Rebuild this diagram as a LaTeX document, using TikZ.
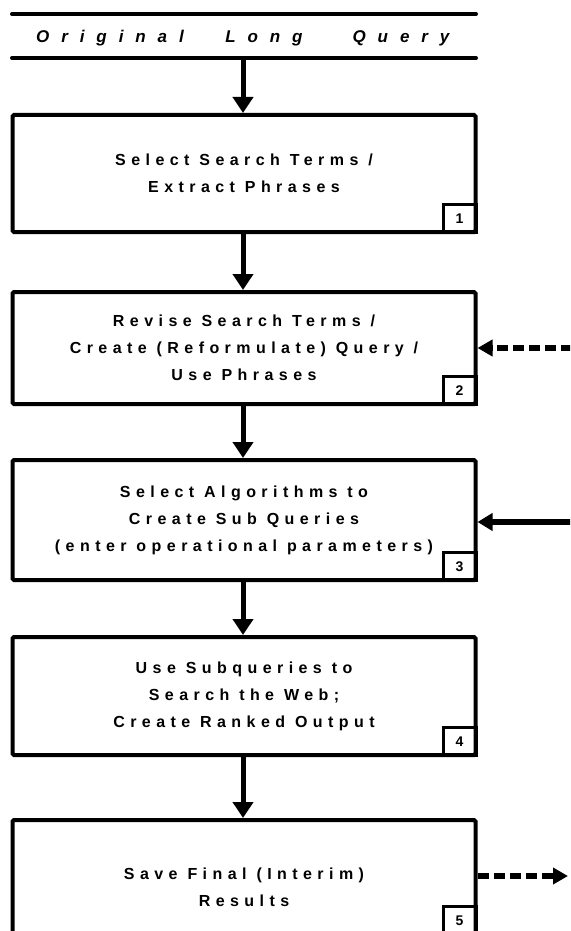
\documentclass[tikz,border=0pt]{standalone}
\usepackage{fontspec}
\usetikzlibrary{arrows.meta}
\newfontfamily\boxfont{Liberation Sans}[LetterSpace=34]
\newfontfamily\titlefont{Liberation Sans}[LetterSpace=70]
\newfontfamily\digitfont{Liberation Sans}

\tikzset{
  stepbox/.style={draw, line width=4pt, rounded corners=1.5pt,
    minimum width=463pt, inner sep=0pt, align=center,
    font=\boxfont\bfseries\fontsize{16}{27}\selectfont},
  steptext/.style={inner sep=0pt, align=center,
    font=\boxfont\bfseries\fontsize{16}{27}\selectfont},
  numbox/.style={draw, line width=3pt, minimum width=33pt, minimum height=28pt,
    inner sep=0pt, anchor=south east, font=\digitfont\bfseries\fontsize{14}{14}\selectfont},
  rule/.style={line width=4pt, line cap=round},
  titletext/.style={font=\titlefont\bfseries\itshape\fontsize{17}{17}\selectfont},
  flow/.style={line width=5pt, -{Triangle[length=16pt,width=20pt]}},
  feed/.style={line width=6pt, dash pattern=on 11pt off 5pt,
    -{Triangle[length=15pt,width=16pt]}},
  feedin/.style={line width=6pt, -{Triangle[length=15pt,width=17pt]}}
}

\begin{document}
\begin{tikzpicture}[x=1pt,y=-1pt]
\useasboundingbox (0,0) rectangle (570,931);
\clip (0,0) rectangle (570,931);

% heading between two rules
\draw[rule] (12,14) -- (476,14);
\draw[rule] (12,58) -- (476,58);
\node[titletext] (t1) at (110,38) {Original};
\node[titletext] (t2) at (264,38) {Long};
\node[titletext] (t3) at (401,38) {Query};
\coordinate (q) at (243,58);

% process steps
\node[stepbox, minimum height=117pt] (b1) at (244,173.5)
  {Select Search Terms /\\Extract Phrases};
\node[stepbox, minimum height=112pt] (b2) at (244,348)
  {Revise Search Terms /\\Create (Reformulate) Query /\\Use Phrases};
\node[stepbox, minimum height=120pt] (b3) at (244,520)
  {Select Algorithms to\\Create Sub Queries\\(enter operational parameters)};
\node[stepbox, minimum height=118pt] (b4) at (244,696)
  {Use Subqueries to\\Search the Web;\\Create Ranked Output};
\node[stepbox, minimum height=114pt] (b5) at (244,877) {};
\node[steptext] (b5t) at (244,887) {Save Final (Interim)\\Results};

% step numbers
\node[numbox] (n1) at (b1.south east) {1};
\node[numbox] (n2) at (b2.south east) {2};
\node[numbox] (n3) at (b3.south east) {3};
\node[numbox] (n4) at (b4.south east) {4};
\node[numbox] (n5) at (b5.south east) {5};

% main flow
\draw[flow] (q) -- (q |- b1.north);
\draw[flow] (b1.south -| q) -- (q |- b2.north);
\draw[flow] (b2.south -| q) -- (q |- b3.north);
\draw[flow] (b3.south -| q) -- (q |- b4.north);
\draw[flow] (b4.south -| q) -- (q |- b5.north);

% side connections
\coordinate (r2) at (572,348);
\coordinate (r3) at (572,522);
\coordinate (r5) at (568,876);
\draw[feed] (r2) -- (b2.east |- r2);
\draw[feedin] (r3) -- (b3.east |- r3);
\draw[feed] (b5.east |- r5) -- (r5);
\end{tikzpicture}
\end{document}
